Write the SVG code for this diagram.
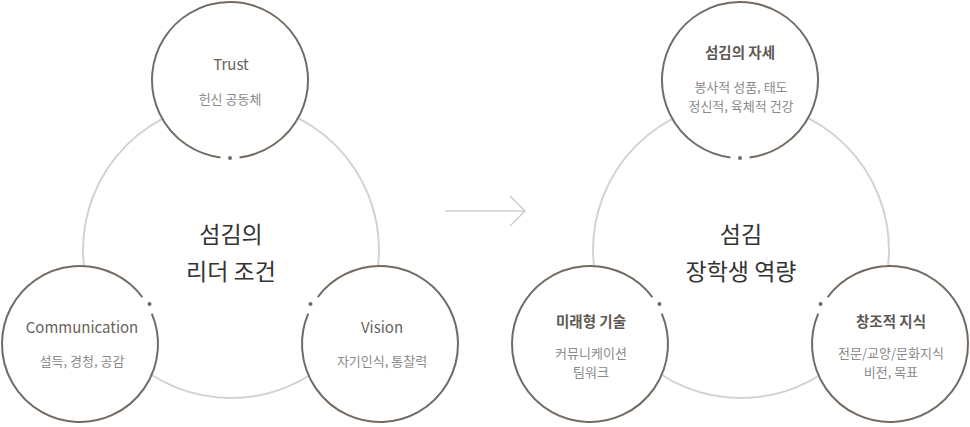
<svg xmlns="http://www.w3.org/2000/svg" xmlns:xlink="http://www.w3.org/1999/xlink" width="970" height="427" viewBox="0 0 970 427">
<style>
text{font-family:"Noto Sans CJK KR","Noto Sans",sans-serif;text-anchor:middle}
.big{fill:none;stroke:#d2d2d2;stroke-width:2}
.node{fill:#fff;stroke:#736a62;stroke-width:2}
.dot{fill:#736a62}
.t1{font-size:15px;fill:#6a625b}
.t2{font-size:13px;fill:#8a8a8a}
.tb{font-size:14.5px;font-weight:bold;fill:#5e5853}
.c{font-size:23px;fill:#333}
.arrow{fill:none;stroke:#cfcfcf;stroke-width:1.5}
</style>
<defs>
<path id="gapc" d="M 77.42 -9.51 A 78 78 0 1 0 77.42 9.51"/>
</defs>
<rect width="970" height="427" fill="#fff"/>
<g id="connectors">
<circle class="big" cx="231" cy="250" r="148"/>
<circle class="big" cx="741" cy="250" r="148"/>
<path class="arrow" d="M445 211 H525 M510 196 L525 211 L510 226"/>
</g>
<g id="center-left">
<text class="c" x="231" y="243">섬김의</text>
<text class="c" x="231" y="280">리더 조건</text>
</g>
<g id="trust">
<use href="#gapc" class="node" transform="translate(230,80) rotate(90)"/>
<circle class="dot" cx="230" cy="158" r="2"/>
<text class="t1" x="231" y="70">Trust</text>
<text class="t2" x="230" y="104">헌신 공동체</text>
</g>
<g id="communication">
<use href="#gapc" class="node" transform="translate(80,344) rotate(-30)"/>
<circle class="dot" cx="149.5" cy="304" r="2"/>
<text class="t1" x="82" y="333">Communication</text>
<text class="t2" x="82" y="366">설득, 경청, 공감</text>
</g>
<g id="vision">
<use href="#gapc" class="node" transform="translate(380,344) rotate(-150)"/>
<circle class="dot" cx="310.5" cy="304" r="2"/>
<text class="t1" x="382" y="333">Vision</text>
<text class="t2" x="382" y="366">자기인식, 통찰력</text>
</g>
<g id="center-right">
<text class="c" x="741" y="243">섬김</text>
<text class="c" x="741" y="280">장학생 역량</text>
</g>
<g id="attitude">
<use href="#gapc" class="node" transform="translate(740,80) rotate(90)"/>
<circle class="dot" cx="740" cy="158" r="2"/>
<text class="tb" x="740" y="58">섬김의 자세</text>
<text class="t2" x="741" y="92">봉사적 성품, 태도</text>
<text class="t2" x="741" y="111">정신적, 육체적 건강</text>
</g>
<g id="future-skill">
<use href="#gapc" class="node" transform="translate(590,344) rotate(-30)"/>
<circle class="dot" cx="659.5" cy="304" r="2"/>
<text class="tb" x="591" y="327">미래형 기술</text>
<text class="t2" x="591" y="358">커뮤니케이션</text>
<text class="t2" x="591" y="377">팀워크</text>
</g>
<g id="creative-knowledge">
<use href="#gapc" class="node" transform="translate(890,344) rotate(-150)"/>
<circle class="dot" cx="820.5" cy="304" r="2"/>
<text class="tb" x="891" y="327">창조적 지식</text>
<text class="t2" x="891" y="358">전문/교양/문화지식</text>
<text class="t2" x="891" y="377">비전, 목표</text>
</g>
</svg>
